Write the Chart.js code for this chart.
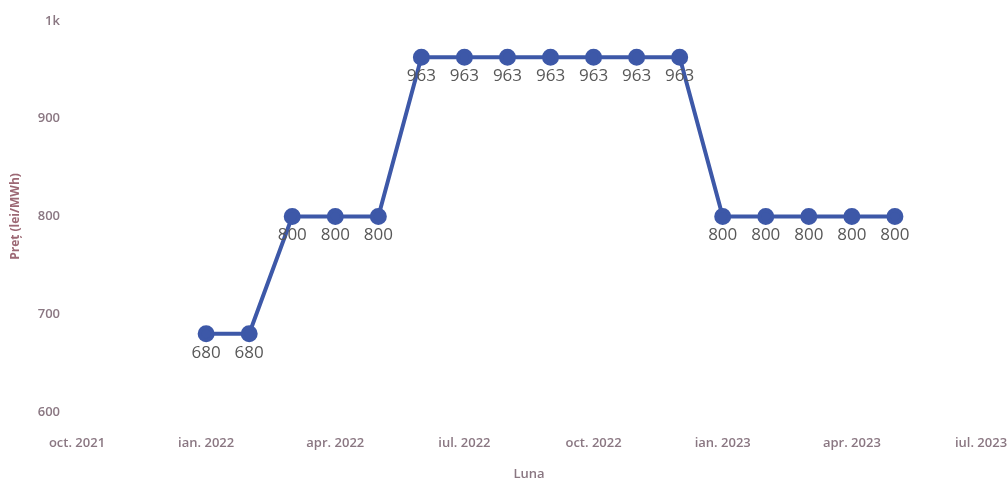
<!DOCTYPE html>
<html>
<head>
<meta charset="utf-8">
<script src="https://cdn.jsdelivr.net/npm/chart.js@4"></script>
<style>
  html, body { margin: 0; padding: 0; background: #fff; overflow: hidden; }
  #wrap { width: 1008px; height: 482px; }
</style>
</head>
<body>
<div id="wrap"><canvas id="chart"></canvas></div>
<script>
// luni de la oct. 2021 (0) incoace
const tickLabels = ['oct. 2021', 'ian. 2022', 'apr. 2022', 'iul. 2022', 'oct. 2022', 'ian. 2023', 'apr. 2023', 'iul. 2023'];
const months = [3, 4, 5, 6, 7, 8, 9, 10, 11, 12, 13, 14, 15, 16, 17, 18, 19];
const prices = [680, 680, 800, 800, 800, 963, 963, 963, 963, 963, 963, 963, 800, 800, 800, 800, 800];

const tickColor = '#8a7782';
const lineColor = '#3d58a8';
const tickFont = { family: '"Open Sans", sans-serif', size: 13, weight: '600' };

// etichete sub puncte
const labelPlugin = {
  id: 'pointLabels',
  afterDatasetsDraw(chart) {
    const ctx = chart.ctx;
    const meta = chart.getDatasetMeta(0);
    ctx.save();
    ctx.font = '17px "Open Sans", sans-serif';
    ctx.fillStyle = '#585858';
    ctx.textAlign = 'center';
    ctx.textBaseline = 'middle';
    meta.data.forEach((pt, i) => {
      ctx.fillText(String(prices[i]), pt.x, pt.y + 19);
    });
    ctx.restore();
  }
};

new Chart(document.getElementById('chart'), {
  type: 'line',
  data: {
    datasets: [{
      label: 'Preț',
      data: months.map((m, i) => ({ x: m, y: prices[i] })),
      borderColor: lineColor,
      backgroundColor: lineColor,
      borderWidth: 4,
      pointRadius: 6.5,
      pointHoverRadius: 6.5,
      tension: 0
    }]
  },
  options: {
    responsive: true,
    maintainAspectRatio: false,
    animation: false,
    layout: { padding: { top: 21, right: 0, left: 4, bottom: 0 } },
    plugins: { legend: { display: false }, tooltip: { enabled: false } },
    scales: {
      x: {
        type: 'linear',
        min: 0,
        max: 21,
        grid: { display: false },
        border: { display: false },
        afterFit: s => { s.paddingLeft = 0; s.paddingRight = 27; s.height = 70; },
        ticks: {
          stepSize: 3,
          maxRotation: 0,
          padding: 15,
          color: tickColor,
          font: tickFont,
          callback: v => tickLabels[v / 3]
        },
        title: {
          display: true,
          text: 'Luna',
          color: tickColor,
          padding: { top: 4, bottom: 0 },
          font: tickFont
        }
      },
      y: {
        min: 600,
        max: 1000,
        grid: { display: false },
        border: { display: false },
        afterFit: s => { s.width = 73; },
        ticks: {
          stepSize: 100,
          padding: 9,
          color: tickColor,
          font: tickFont,
          callback: v => v === 1000 ? '1k' : v
        },
        title: {
          display: true,
          text: 'Preț (lei/MWh)',
          color: '#9c6874',
          padding: { bottom: 20 },
          font: { family: '"Open Sans", sans-serif', size: 12, weight: '700' }
        }
      }
    }
  },
  plugins: [labelPlugin]
});
</script>
</body>
</html>
